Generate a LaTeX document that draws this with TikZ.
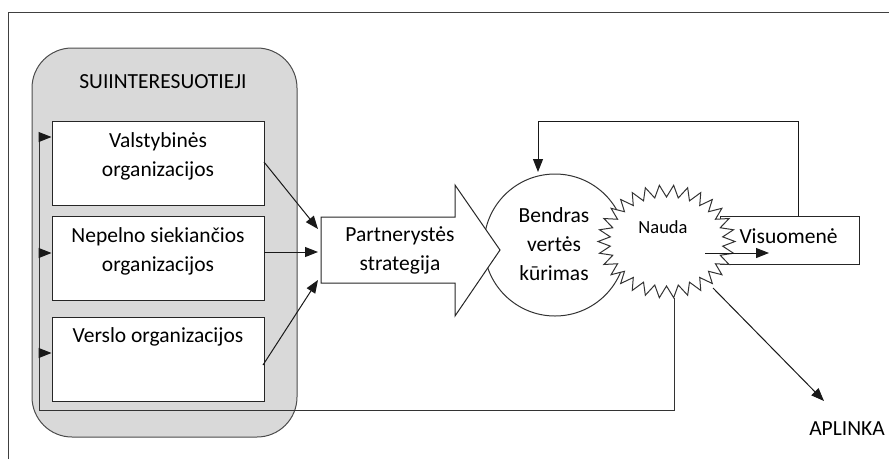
\documentclass[tikz,border=0pt]{standalone}
\usepackage{fontspec}
\setmainfont{Carlito}
\usetikzlibrary{arrows.meta}
\begin{document}
\begin{tikzpicture}[x=1pt,y=-1pt,
  line width=1pt,
  txt/.style={font=\fontsize{21.5}{29}\selectfont, align=center, inner sep=0pt},
  small/.style={font=\fontsize{18.5}{22}\selectfont, inner sep=0pt},
  orgbox/.style={draw=black!85, fill=white, minimum width=212pt, minimum height=84pt, inner sep=0pt},
  arr/.style={-{Triangle[length=13pt,width=10pt]}, draw=black!90},
  ln/.style={draw=black!80}]
\useasboundingbox (0,0) rectangle (889,459);
% outer frame
\draw[draw=black!75] (8,459) -- (8,12) -- (889,12);
% stakeholder group
\draw[draw=black!70, fill=black!15, rounded corners=40pt] (32,48) rectangle (297,437);
\node[txt] (sui) at (163,82) {SUIINTERESUOTIEJI};
% organisation boxes
\node[orgbox] (b1) at (158,163) {};
\node[orgbox] (b2) at (158,258.5) {};
\node[orgbox] (b3) at (158,359) {};
\node[txt] (t1) at (158,156.5) {Valstybinės\\organizacijos};
\node[txt] (t2) at (158,251.5) {Nepelno siekiančios\\organizacijos};
\node[txt] (t3) at (158,337) {Verslo organizacijos};
% circle
\node[draw=black!80, circle, minimum size=142pt, inner sep=0pt] (bv) at (555,245) {};
\node[txt] (bvt) at (554,244) {Bendras\\vertės\\kūrimas};
% block arrow
\draw[draw=black!85, fill=white] (321,217) -- (455,217) -- (455,185) -- (500,250) -- (455,316) -- (455,283) -- (321,283) -- cycle;
\node[txt] (ps) at (400,250) {Partnerystės\\strategija};
% society box
\node[draw=black!85, minimum width=139pt, minimum height=48pt, inner sep=0pt] (vis) at (789.5,240) {};
% benefit star
\draw[draw=black!80, fill=white] plot[domain=0:60, samples=61]
  ({666.5 + (68.5 - 12*mod(\x,2))*cos(\x*6)}, {241.5 + (56.5 - 12*mod(\x,2))*sin(\x*6)}) -- cycle;
\node[small] (nauda) at (663,227) {Nauda};
\node[txt, anchor=west] (vist) at (739,236) {Visuomenė};
\coordinate (va) at (705,253);
\coordinate (vb) at (769,253);
\draw[arr] (va) -- (vb);
% inputs to strategy
\coordinate (o1) at (264,162);
\coordinate (o2) at (264,252);
\coordinate (o3) at (263,365);
\coordinate (p1) at (318,229);
\coordinate (p2) at (318,252);
\coordinate (p3) at (318,280);
\draw[arr] (o1) -- (p1);
\draw[arr] (o2) -- (p2);
\draw[arr] (o3) -- (p3);
% top feedback
\coordinate (c1) at (538,121);
\coordinate (c2) at (798,121);
\coordinate (c3) at (538,172);
\draw[arr] (vis.north -| c2) -- (c2) -- (c1) -- (c3);
% bottom feedback
\coordinate (n1) at (674,298);
\coordinate (n2) at (674,410);
\coordinate (l0) at (39,410);
\coordinate (l1) at (39,137);
\coordinate (l2) at (39,253);
\coordinate (l3) at (39,353);
\draw[ln] (n1) -- (n2) -- (l0) -- (l1);
\draw[arr] (l1) -- (l1 -| b1.west);
\draw[arr] (l2) -- (l2 -| b2.west);
\draw[arr] (l3) -- (l3 -| b3.west);
% environment
\coordinate (e1) at (713,288);
\coordinate (e2) at (824,401);
\draw[arr] (e1) -- (e2);
\node[txt] (apl) at (847,429) {APLINKA};
\end{tikzpicture}
\end{document}
